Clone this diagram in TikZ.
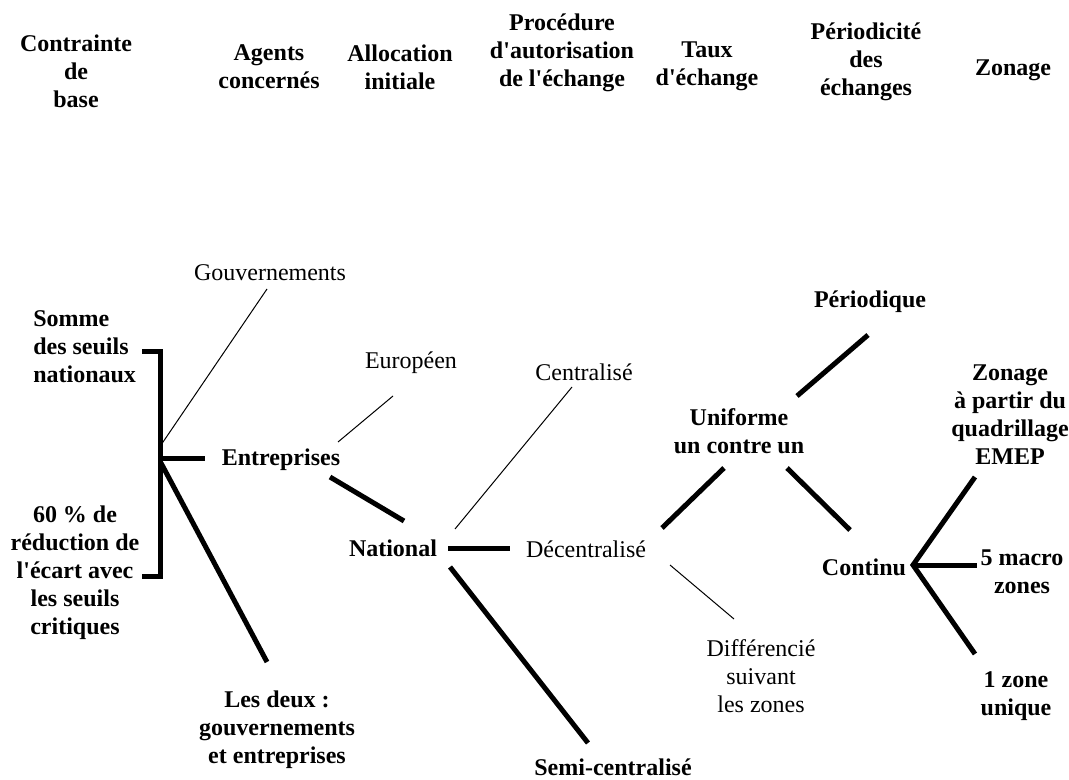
\documentclass[tikz,border=0pt]{standalone}
\usepackage{fontspec}
\setmainfont{Liberation Serif}
\newcommand{\apo}{\textquotesingle}
\begin{document}
\begin{tikzpicture}[x=0.75pt,y=-0.75pt,
  lab/.style={inner sep=0pt,align=center,font=\fontsize{18}{21}\selectfont},
  blab/.style={inner sep=0pt,align=center,font=\fontsize{18}{21}\selectfont\bfseries},
  bar/.style={line width=3.75pt,line cap=butt,line join=miter},
  fine/.style={line width=0.75pt}]
\useasboundingbox (0,0) rectangle (1069,780);
% headers
\node[blab] (hc) at (76,71) {Contrainte\\de\\base};
\node[blab] (ha) at (269,67) {Agents\\concernés};
\node[blab] (hal) at (400,67) {Allocation\\initiale};
\node[blab] (hp) at (562,53) {Procédure\\d\apo{}autorisation\\de l\apo{}échange};
\node[blab] (ht) at (707,66) {Taux\\d\apo{}échange};
\node[blab] (hpe) at (866,62) {Périodicité\\des\\échanges};
\node[blab] (hz) at (1013,70) {Zonage};
% body nodes
\node[lab] (gouv) at (270,273) {Gouvernements};
\node[blab,align=left,anchor=west] (somme) at (33,347) {Somme\\des seuils\\nationaux};
\node[blab] (sixty) at (75,573) {60 \% de\\réduction de\\l\apo{}écart avec\\les seuils\\critiques};
\node[blab] (entr) at (281,460) {Entreprises};
\node[blab] (lesdeux) at (277,730) {Les deux :\\gouvernements\\et entreprises};
\node[lab] (euro) at (411,363) {Européen};
\node[blab] (nat) at (393,548) {National};
\node[lab] (cent) at (584,372) {Centralisé};
\node[lab] (decent) at (586,549) {Décentralisé};
\node[blab] (semi) at (613,767) {Semi-centralisé};
\node[lab] (diff) at (761,676) {Différencié\\suivant\\les zones};
\node[blab] (unif) at (739,431) {Uniforme\\un contre un};
\node[blab] (perio) at (870,302) {Périodique};
\node[blab] (cont) at (864,567) {Continu};
\node[blab] (zemep) at (1010,415) {Zonage\\à partir du\\quadrillage\\EMEP};
\node[blab] (macro) at (1022,572) {5 macro\\zones};
\node[blab] (zone1) at (1016,696) {1 zone\\unique};
% connector end points
\coordinate (b1) at (142,351);
\coordinate (b2) at (160,351);
\coordinate (b3) at (160,576);
\coordinate (b4) at (142,576);
\coordinate (jg) at (161,445);
\coordinate (je) at (160,458);
\coordinate (jl) at (161,463);
\coordinate (gouvE) at (267,289);
\coordinate (entrW) at (205,458);
\coordinate (deuxN) at (267,662);
\coordinate (entrNE) at (338,442);
\coordinate (euroS) at (393,396);
\coordinate (entrSE) at (330,477);
\coordinate (natNW) at (404,521);
\coordinate (natNE) at (455,529);
\coordinate (centS) at (572,387);
\coordinate (natE) at (448,548);
\coordinate (decW) at (510,548);
\coordinate (natSE) at (450,567);
\coordinate (semiN) at (588,743);
\coordinate (decSE) at (670,565);
\coordinate (diffN) at (734,619);
\coordinate (decNE) at (662,528);
\coordinate (unifSW) at (724,468);
\coordinate (unifNE) at (797,396);
\coordinate (perS) at (868,335);
\coordinate (unifSE) at (787,468);
\coordinate (contN) at (850,530);
\coordinate (fork) at (913,565);
\coordinate (emepS) at (975,477);
\coordinate (macroW) at (977,565);
\coordinate (zoneN) at (975,654);
% connectors
\draw[bar] (b1) -- (b2) -- (b3) -- (b4);
\draw[fine] (jg) -- (gouvE);
\draw[bar] (je) -- (entrW);
\draw[bar] (jl) -- (deuxN);
\draw[fine] (entrNE) -- (euroS);
\draw[bar] (entrSE) -- (natNW);
\draw[fine] (natNE) -- (centS);
\draw[bar] (natE) -- (decW);
\draw[bar] (natSE) -- (semiN);
\draw[fine] (decSE) -- (diffN);
\draw[bar] (decNE) -- (unifSW);
\draw[bar] (unifNE) -- (perS);
\draw[bar] (unifSE) -- (contN);
\draw[bar] (emepS) -- (fork) -- (zoneN);
\draw[bar] (fork) -- (macroW);
\end{tikzpicture}
\end{document}
